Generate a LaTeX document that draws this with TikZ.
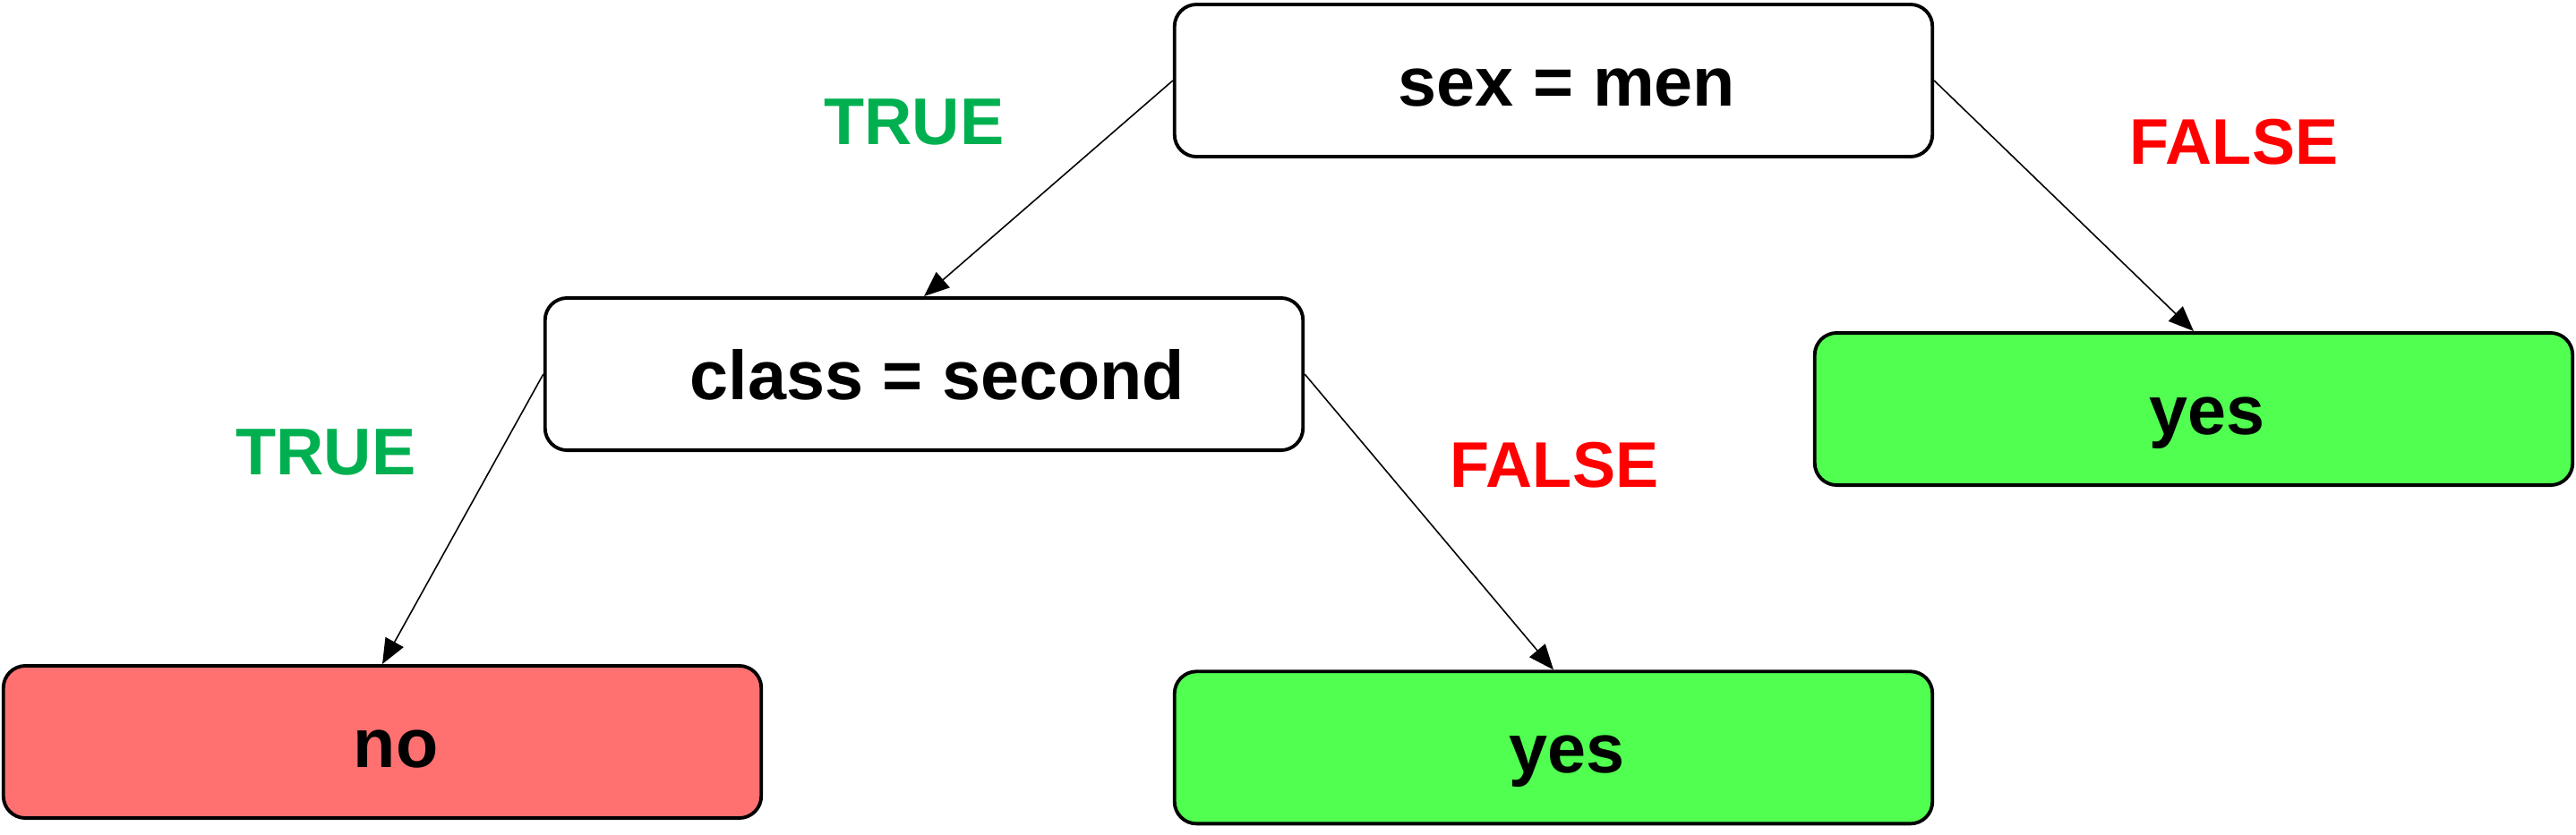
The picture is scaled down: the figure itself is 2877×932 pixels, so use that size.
\documentclass[tikz,border=0pt]{standalone}
\usepackage{fontspec}
\setmainfont{Liberation Sans}
\usepackage{xcolor}
\usepackage{tikz}
\usetikzlibrary{arrows.meta,positioning}
\definecolor{TreeLeafYes}{HTML}{50FF50}
\definecolor{TreeLeafNo}{HTML}{FF7171}
\definecolor{TreeTrue}{HTML}{00B050}
\definecolor{TreeFalse}{HTML}{FF0000}

\begin{document}
\begin{tikzpicture}[
            x=0.01cm, y=-0.01cm,
            font=\fontsize{22}{26}\selectfont\bfseries,
            split/.style={
                    draw=black,
                    line width=1.1pt,
                    rounded corners=7pt,
                    minimum width=8.46cm,
                    minimum height=1.7cm,
                    text height=19pt, text depth=3pt,  % baseline a bit low, as in the tree
                    execute at begin node={\hspace{0.3cm}},
                    fill=white
                },
            yesleaf/.style={split, fill=TreeLeafYes},
            noleaf/.style={split, fill=TreeLeafNo},
            truelabel/.style={text=TreeTrue, font=\fontsize{21}{25}\selectfont\bfseries},
            falselabel/.style={text=TreeFalse, font=\fontsize{20.5}{25}\selectfont\bfseries},
            arrow/.style={-{Triangle[length=8pt,width=6.5pt]}, line width=0.45pt, draw=black},
        ]
        \useasboundingbox (0,0) rectangle (2877,932);

        \node[split] (sex) at (1735,90) {sex = men};
        \node[split] (class) at (1032,418) {class = second};
        \node[yesleaf] (yesright) at (2450,457) {yes};
        \node[noleaf] (no) at (427,829) {no};
        \node[yesleaf, below=5.71cm of sex] (yesmid) {yes};

        \node[truelabel] (sextrue) at (1021,136) {TRUE};
        \node[falselabel] (sexfalse) at (2495,159) {FALSE};
        \node[truelabel] (classtrue) at (364,505) {TRUE};
        \node[falselabel] (classfalse) at (1736,520) {FALSE};

        \draw[arrow] (sex.west) -- (class.north);
        \draw[arrow] (sex.east) -- (yesright.north);
        \draw[arrow] (class.west) -- (no.north);
        \draw[arrow] (class.east) -- (yesmid.north);

    \end{tikzpicture}
\end{document}
